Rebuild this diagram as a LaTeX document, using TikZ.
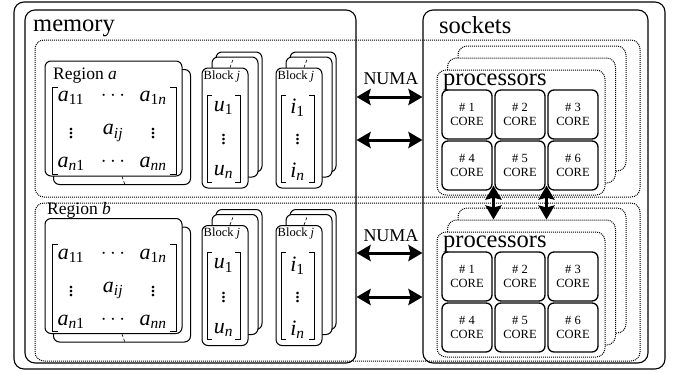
\documentclass[tikz,border=0pt]{standalone}
\usepackage{fontspec}
\setmainfont{Liberation Serif}
\usetikzlibrary{arrows.meta,calc}
\newcommand\fsz[1]{\fontsize{#1}{#1}\selectfont}
\newcommand\idx[2]{\textit{#1}\textsubscript{#2}}

\begin{document}
\begin{tikzpicture}[x=1pt,y=-1pt,
  wh/.style 2 args={minimum width=#1pt,minimum height=#2pt},
  solidbox/.style={draw,rounded corners=10pt,inner sep=0pt,line width=1.1pt},
  dotbox/.style={draw,densely dotted,rounded corners=9pt,inner sep=0pt,line width=1pt},
  sheet/.style={draw,fill=white,rounded corners=6pt,inner sep=0pt,line width=1pt},
  core/.style={draw,fill=white,rounded corners=6pt,inner sep=0pt,line width=1.3pt,
    minimum width=50pt,minimum height=49pt,align=center,font=\fontsize{12.5}{14}\selectfont},
  biglabel/.style={inner sep=0pt,font=\fsz{24.5}},
  ent/.style={inner sep=0pt,font=\fsz{22}},
  brack/.style={line width=0.8pt},
  tick/.style={densely dashed,line width=0.6pt},
  numa/.style={line width=3pt,{Stealth[length=14pt,width=16pt,inset=2pt]}-{Stealth[length=14pt,width=16pt,inset=2pt]}}]
\useasboundingbox (0,0) rectangle (681,373);

% frames
\node[solidbox,wh={651}{367}] (outer) at (339.5,185.5) {};
\node[dotbox,wh={605}{157}] (rega) at (337.5,118.5) {};
\node[dotbox,wh={605}{158}] (regb) at (337.5,282) {};
\node[solidbox,wh={331}{353}] (mem) at (190.5,186.5) {};
\node[solidbox,wh={225}{353}] (sock) at (535.5,186.5) {};
\node[biglabel,anchor=base west] (memlab) at (33,31) {memory};
\node[biglabel,anchor=base west] (socklab) at (439,33) {sockets};

% memory regions
\foreach \r/\dy in {a/0,b/157.5}{
  \node[sheet,wh={137}{115}] (rback\r) at (122,127+\dy) {};
  \node[sheet,wh={137}{115}] (rfront\r) at (113.5,118.5+\dy) {};
  \draw[tick] ($(rfront\r.south)+(8.5,0)$) -- ($(rback\r.south)+(3,0)$);
  \draw[brack] (58,87+\dy) -| (52,174+\dy) -- (58,174+\dy);
  \draw[brack] (170,87+\dy) -| (176,174+\dy) -- (170,174+\dy);
  \path (71,98+\dy) node[ent] (m11\r) {\idx{a}{11}}
    (113,96+\dy) node[ent] (m12\r) {$\cdots$}
    (153,98+\dy) node[ent] (m13\r) {\idx{a}{1\textit{n}}}
    (71,131+\dy) node[ent] (m21\r) {$\vdots$}
    (113,133+\dy) node[ent] (m22\r) {\idx{a}{\textit{ij}}}
    (153,131+\dy) node[ent] (m23\r) {$\vdots$}
    (71,164+\dy) node[ent] (m31\r) {\idx{a}{\textit{n}1}}
    (113,162+\dy) node[ent] (m32\r) {$\cdots$}
    (153,164+\dy) node[ent] (m33\r) {\idx{a}{\textit{nn}}};
  % block stacks
  \foreach \ltr/\x in {u/225,i/299}{
    \node[sheet,wh={46}{120}] (bb\ltr\r) at (\x+14,112+\dy) {};
    \node[sheet,wh={46}{120}] (bm\ltr\r) at (\x+10,117+\dy) {};
    \node[sheet,wh={46}{120}] (bf\ltr\r) at (\x,128+\dy) {};
    \draw[tick] ($(bf\ltr\r.north)+(5,0)$) -- ($(bm\ltr\r.north)+(-2,3)$);
    \node[inner sep=0pt,anchor=west,font=\fsz{12.5}] (bl\ltr\r) at (\x-21.5,76+\dy) {Block \textit{j}};
    \draw[brack] (\x-13,95+\dy) -| (\x-18,182+\dy) -- (\x-13,182+\dy);
    \draw[brack] (\x+10,95+\dy) -| (\x+15,182+\dy) -- (\x+10,182+\dy);
    \path (\x-1.5,108+\dy) node[ent] (v1\ltr\r) {\idx{\ltr}{1}}
      (\x-1.5,137+\dy) node[ent] (v2\ltr\r) {$\vdots$}
      (\x-1.5,172+\dy) node[ent] (v3\ltr\r) {\idx{\ltr}{\textit{n}}};
  }
}
\node[inner sep=0pt,anchor=west,font=\fsz{17.5}] (labra) at (53,76) {Region \textit{a}};
\node[inner sep=0pt,anchor=west,font=\fsz{17.5}] (labrb) at (47,210) {Region \textit{b}};

% processors
\foreach \r/\dy in {a/0,b/162}{
  \node[dotbox,fill=white,wh={168}{125}] (back\r) at (542,108.5+\dy) {};
  \node[dotbox,fill=white,wh={168}{125}] (mid\r) at (531.5,120.5+\dy) {};
  \node[dotbox,fill=white,wh={168}{125}] (proc\r) at (521,132.5+\dy) {};
  \node[biglabel,anchor=base west] (proclab\r) at (443,85+\dy) {processors};
  \foreach \n/\x/\y in {1/467/114.5,2/520/114.5,3/573/114.5,4/467/165.5,5/520/165.5,6/573/165.5}
    \node[core] (core\r\n) at (\x,\y+\dy) {\# \n\\CORE};
}

% links
\node[inner sep=0pt,font=\fsz{18}] (numaa) at (391,79) {NUMA};
\node[inner sep=0pt,font=\fsz{18}] (numab) at (391,236) {NUMA};
\foreach \y in {97,140,253,297}
  \draw[numa] (mem.east |- 0,\y) -- (sock.west |- 0,\y);
\draw[numa] ($(corea4.south east)!.5!(corea5.south west)+(0,-5)$) coordinate (ga) -- (ga |- midb.north);
\draw[numa] ($(corea5.south east)!.5!(corea6.south west)+(0,-5)$) coordinate (gb) -- (gb |- midb.north);
\end{tikzpicture}
\end{document}
